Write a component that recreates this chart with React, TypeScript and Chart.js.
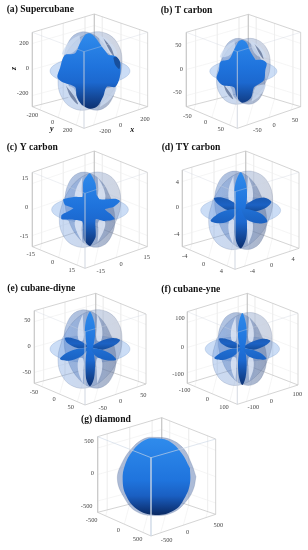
import React, { useEffect, useRef } from "react";
import { Chart, registerables } from "chart.js";

Chart.register(...registerables);

type P = [number, number];
type L = [string, number, number];

// ---- projected outlines, in view units (box half-width is about 173) ----
const discH: P[] = [[0,40],[-60,35],[-104,20],[-120,0],[-104,-20],[-60,-35],[0,-40],[60,-35],[104,-20],[120,0],[104,20],[60,35]];
const discA: P[] = [[67,32],[39,84],[0,114],[-39,113],[-67,82],[-78,29],[-67,-32],[-39,-84],[0,-114],[39,-113],[67,-82],[78,-29]];
const discB: P[] = [[-83,32],[-96,-29],[-83,-82],[-48,-113],[0,-114],[48,-84],[83,-32],[96,29],[83,82],[48,113],[0,114],[-48,84]];

const slitsWide: P[][] = [
  [[-24,102],[-44,62],[-46,28],[-27,30],[-26,65]],
  [[24,102],[44,62],[46,30],[27,32],[26,65]],
  [[-24,-102],[-44,-62],[-46,-34],[-27,-34],[-26,-65]],
  [[24,-102],[44,-62],[46,-36],[27,-36],[26,-65]],
];
const slitsThin: P[][] = [
  [[-22,104],[-36,62],[-33,24],[-20,28],[-20,65]],
  [[22,104],[36,62],[33,24],[20,28],[20,65]],
  [[-22,-104],[-36,-62],[-33,-28],[-20,-30],[-20,-65]],
  [[22,-104],[36,-62],[33,-28],[20,-30],[20,-65]],
];
const crescents: P[][] = [
  [[-32,108],[-62,88],[-84,52],[-72,50],[-48,58],[-30,85]],
  [[28,108],[60,88],[82,52],[66,50],[46,58],[30,85]],
  [[-32,-108],[-60,-88],[-78,-48],[-60,-46],[-46,-56],[-36,-85]],
  [[30,-108],[58,-88],[80,-50],[58,-50],[44,-56],[34,-85]],
];
const arcsDark: P[][] = [
  [[-72,-44],[-58,-78],[-36,-100],[-46,-78]],
  [[40,98],[62,72],[72,44],[58,62]],
];

const lobeA: P[] = [[55,48],[75,45],[90,28],[92,3],[87,-27],[75,-48],[50,-48],[40,-76],[22,-106],[0,-113],[-25,-101],[-40,-76],[-45,-48],[-85,-32],[-98,-18],[-90,8],[-76,47],[-45,53],[-30,83],[-15,108],[-3,113],[12,105],[32,78]];
const lobeB: P[] = [[37,34],[57,34],[70,24],[66,4],[62,-26],[42,-41],[32,-48],[22,-81],[-3,-94],[-20,-76],[-28,-48],[-63,-41],[-80,-21],[-73,4],[-68,29],[-43,36],[-28,64],[-14,90],[-3,94],[10,86],[20,62]];
const lobeC: P[] = [[20,44],[30,31],[75,33],[90,26],[72,9],[45,1],[65,-16],[74,-29],[40,-34],[17,-29],[17,-81],[0,-109],[-18,-91],[-22,-36],[-45,-31],[-85,-29],[-85,-16],[-50,4],[-75,14],[-80,31],[-45,39],[-22,39],[-20,84],[-1,109],[16,80]];
const backA: P[] = [[70,40],[80,42],[90,26],[88,6],[76,18]];

const stemD: P[] = [[14,5],[19,-40],[16,-85],[0,-114],[-16,-85],[-19,-40],[-14,5],[-19,40],[-16,80],[0,114],[16,80],[19,40]];
const armsD: P[][] = [
  [[0,8],[-32,30],[-60,39],[-80,36],[-70,20],[-35,0]],
  [[0,8],[40,32],[72,38],[92,26],[76,8],[35,-4]],
  [[0,6],[-42,0],[-72,-13],[-90,-32],[-60,-39],[-28,-28]],
  [[0,6],[35,0],[66,-13],[80,-34],[50,-39],[16,-26]],
];
const stemE: P[] = [[9,4],[15,-40],[12,-88],[0,-112],[-12,-88],[-15,-40],[-9,4],[-15,40],[-13,80],[0,112],[13,80],[15,40]];
const armsE: P[][] = [
  [[0,6],[-25,22],[-55,33],[-75,33],[-68,18],[-38,3]],
  [[0,6],[38,26],[68,33],[90,27],[74,11],[38,-2]],
  [[0,4],[-40,0],[-72,-13],[-90,-30],[-64,-35],[-30,-24]],
  [[0,4],[34,-2],[63,-15],[78,-32],[50,-34],[18,-22]],
];
const stemF: P[] = [[8,4],[13,-40],[10,-84],[0,-108],[-10,-84],[-13,-40],[-8,4],[-13,38],[-11,76],[0,108],[11,76],[13,38]];
const armsF: P[][] = [
  [[0,6],[-22,20],[-50,31],[-70,31],[-62,16],[-34,3]],
  [[0,6],[35,24],[62,31],[84,25],[68,10],[34,-2]],
  [[0,4],[-36,0],[-66,-12],[-84,-28],[-58,-33],[-27,-22]],
  [[0,4],[30,-2],[58,-14],[72,-30],[46,-31],[16,-20]],
];
const outerG: P[] = [[118,0],[110,-38],[90,-72],[52,-106],[-5,-117],[-62,-104],[-98,-62],[-118,-7],[-102,45],[-70,90],[-35,115],[-5,118],[40,112],[80,85],[104,40]];
const innerG: P[] = [[100,25],[100,-20],[86,-60],[54,-100],[-5,-115],[-60,-97],[-92,-56],[-102,-10],[-95,35],[-70,80],[-35,110],[-5,115],[40,105],[75,70]];

// ---- labels: text, x, y in view units of the panel ----
const titles: L[] = [
  ["(a) Supercubane",20,30],["(b) T carbon",20,33],["(c) Y carbon",20,22],["(d) TY carbon",23,22],
  ["(e) cubane-diyne",22,40],["(f) cubane-yne",22,43],["(g) diamond",33,43],
];
const ticksA: L[] = [["200",72,130],["0",82,205],["-200",68,280],["-200",97,345],["0",158,368],["200",203,390],["-200",315,393],["0",362,375],["200",435,357]];
const ticksB: L[] = [["50",73,135],["0",82,207],["-50",70,277],["-50",100,348],["0",155,368],["50",200,388],["-50",310,392],["0",360,375],["50",423,360]];
const ticksC: L[] = [["15",75,115],["0",80,201],["-15",72,288],["-15",92,342],["0",158,367],["15",215,392],["-15",302,393],["0",363,373],["15",440,353]];
const ticksD: L[] = [["4",70,127],["0",70,203],["-4",68,282],["-4",92,349],["0",149,372],["4",202,393],["-4",295,395],["0",353,377],["4",417,358]];
const ticksE: L[] = [["50",82,135],["0",87,214],["-50",80,293],["-50",102,352],["0",162,373],["50",212,397],["-50",308,399],["0",362,380],["50",430,362]];
const ticksF: L[] = [["100",78,130],["0",85,216],["-100",72,299],["-100",92,347],["0",160,372],["100",210,396],["-100",298,397],["0",352,378],["100",430,358]];
const ticksG: L[] = [["500",57,108],["0",67,206],["-500",50,305],["-500",65,347],["0",145,376],["500",203,402],["-500",290,406],["0",353,383],["500",445,362]];
const axisTitlesA: L[] = [["z",42,205],["y",155,386],["x",397,391]];

// box corners: back, left, right, front (top), then left, right, front (bottom)
const boxes: number[][] = [
  [283,42, 97,97, 443,97, 252,155, 97,320, 443,320, 252,385],
  [283,43, 97,97, 440,97, 250,155, 97,320, 440,320, 250,385],
  [283,33, 97,97, 442,97, 255,160, 97,320, 442,320, 255,385],
  [275,33, 85,90, 435,97, 243,155, 85,320, 435,325, 243,388],
  [287,55, 103,107, 438,117, 255,170, 103,325, 438,327, 255,390],
  [280,55, 100,110, 432,115, 250,172, 100,325, 432,330, 250,388],
  [275,38, 83,95, 437,102, 243,158, 83,322, 437,328, 243,393],
];

const frames = [
  [0,0,154,145],[154,0,154,145],[0,140,154,145],[154,140,154,145],[0,275,154,145],[154,275,154,145],[70,405,170,145],
];
const centers: P[] = [[270,213],[268,214],[270,209],[260,211],[270,222],[265,222],[260,215]];
const discScale = [1,0.84,0.96,1,1,0.93,0];
const tickSets = [ticksA,ticksB,ticksC,ticksD,ticksE,ticksF,ticksG];

const SERIF = '"Liberation Serif", serif';

function makeChart(canvas: HTMLCanvasElement, i: number) {
  const [, , fw, fh] = frames[i];
  const [cx, cy] = centers[i];
  const ctx = canvas.getContext("2d")!;
  const tx = (pts: P[], k = 1) => {
    const a = pts.map(([x, y]) => ({ x: cx + k * x, y: cy - k * y }));
    a.push(a[0]);
    return a;
  };
  const hGrad = (c0: string, c1: string) => {
    const g = ctx.createLinearGradient((cx - 100) / 3, 0, (cx + 100) / 3, 0);
    g.addColorStop(0, c0); g.addColorStop(1, c1);
    return g;
  };
  const vGrad = (top: number, bottom: number, stops: [number, string][]) => {
    const g = ctx.createLinearGradient(0, (cy - top) / 3, 0, (cy - bottom) / 3);
    stops.forEach(([o, c]) => g.addColorStop(o, c));
    return g;
  };
  const lobeStops: [number, string][] = [[0,"#2f8bec"],[0.45,"#1f73dc"],[0.65,"#1c68cf"],[0.82,"#154c9f"],[1,"#0d2f6e"]];
  const lobeFill = vGrad(115, -115, lobeStops);
  const darkArm = vGrad(40, 0, [[0,"#1a58b0"],[0.6,"#1c62c4"],[1,"#164f9f"]]);
  const frontArm = vGrad(30, -40, [[0,"#2379e0"],[1,"#1a60c0"]]);

  const datasets: any[] = [];
  const shape = (pts: any[], fill: any, stroke = "rgba(0,0,0,0)", w = 0, tension = 0.4) =>
    datasets.push({ data: pts, showLine: true, fill: "shape", backgroundColor: fill, borderColor: stroke, borderWidth: w, tension, pointRadius: 0 });
  const path = (pts: any[], stroke: string, w: number) =>
    datasets.push({ data: pts, showLine: true, fill: false, borderColor: stroke, borderWidth: w, tension: 0, pointRadius: 0 });

  const b = boxes[i];
  const V = {
    tb: { x: b[0], y: b[1] }, tl: { x: b[2], y: b[3] }, tr: { x: b[4], y: b[5] }, tf: { x: b[6], y: b[7] },
    bl: { x: b[8], y: b[9] }, br: { x: b[10], y: b[11] }, bf: { x: b[12], y: b[13] },
    bb: { x: b[0], y: b[1] + (b[13] - b[7]) },
  };
  const lerp = (p: any, q: any, t: number) => ({ x: p.x + (q.x - p.x) * t, y: p.y + (q.y - p.y) * t });
  const gap = { x: NaN, y: NaN };
  const grid: any[] = [];
  [0.15, 0.5, 0.85].forEach((t) => {
    grid.push(lerp(V.tl, V.bl, t), lerp(V.tb, V.bb, t), lerp(V.tr, V.br, t), gap);
    grid.push(lerp(V.tl, V.tb, t), lerp(V.bl, V.bb, t), lerp(V.bl, V.bf, t), gap);
    grid.push(lerp(V.tr, V.tb, t), lerp(V.br, V.bb, t), lerp(V.br, V.bf, t), gap);
  });
  path(grid, "#efefef", 0.6);
  path([V.tl, V.tb, V.tr, gap, V.tb, V.bb, gap, V.bl, V.bb, V.br, gap, V.tl, V.bl, V.bf, V.br, V.tr], "#c9c9c9", 0.8);

  if (i < 6) {
    const k = discScale[i];
    shape(tx(discH, k), "rgba(110,160,230,0.36)", "rgba(90,130,190,0.45)", 0.5);
    shape(tx(discA, k), hGrad("rgba(75,125,205,0.42)", "rgba(85,100,135,0.5)"), "rgba(80,100,140,0.4)", 0.5);
    shape(tx(discB, k), hGrad("rgba(100,150,225,0.34)", "rgba(115,130,165,0.34)"), "rgba(80,100,140,0.4)", 0.5);
    if (i >= 3) slitsThin.forEach((s) => shape(tx(s, k), "rgba(226,234,248,0.8)"));
    else if (i === 2) slitsWide.forEach((s) => shape(tx(s, k), "rgba(226,234,248,0.8)"));
    else {
      crescents.forEach((s) => shape(tx(s, k), "rgba(205,220,242,0.75)"));
      arcsDark.forEach((s) => shape(tx(s, k), "rgba(45,65,110,0.55)"));
    }
  }
  if (i === 0) {
    shape(tx(lobeA), lobeFill, "rgba(0,0,0,0)", 0, 0.3);
    shape(tx(backA), "#184f9c", "rgba(0,0,0,0)", 0, 0.3);
  } else if (i === 1) {
    shape(tx(lobeB), lobeFill, "rgba(0,0,0,0)", 0, 0.3);
  } else if (i === 2) {
    shape(tx(lobeC), lobeFill, "rgba(0,0,0,0)", 0, 0.2);
  } else if (i < 6) {
    const stem = i === 3 ? stemD : i === 4 ? stemE : stemF;
    const arms = i === 3 ? armsD : i === 4 ? armsE : armsF;
    shape(tx(arms[0]), darkArm, "rgba(0,0,0,0)", 0, 0.3);
    shape(tx(arms[1]), darkArm, "rgba(0,0,0,0)", 0, 0.3);
    shape(tx(stem), lobeFill, "rgba(0,0,0,0)", 0, 0.3);
    shape(tx(arms[2]), frontArm, "rgba(0,0,0,0)", 0, 0.3);
    shape(tx(arms[3]), frontArm, "rgba(0,0,0,0)", 0, 0.3);
  } else {
    shape(tx(outerG), "rgba(90,120,175,0.5)", "rgba(80,100,140,0.4)", 0.5);
    shape(tx(innerG), vGrad(115, -115, [[0,"#2f8bec"],[0.55,"#1f74dd"],[0.75,"#1a5fc2"],[0.92,"#0f3a82"],[1,"#0b2a62"]]));
  }
  path([V.tl, V.tf, V.tr, gap, V.tf, V.bf], i === 6 ? "rgba(205,215,230,0.8)" : "rgba(205,210,220,0.45)", 0.8);

  datasets.forEach((d, n) => { d.order = datasets.length - n; });

  const labels = {
    id: "panelText",
    afterDatasetsDraw(chart: any) {
      const c = chart.ctx, sx = chart.scales.x, sy = chart.scales.y;
      c.save();
      c.textBaseline = "middle";
      c.textAlign = "left";
      c.fillStyle = "#111";
      c.font = `bold 9.6px ${SERIF}`;
      const [t, tX, tY] = titles[i];
      c.fillText(t, sx.getPixelForValue(tX), sy.getPixelForValue(tY));
      c.textAlign = "center";
      c.fillStyle = "#444";
      c.font = `6.4px ${SERIF}`;
      tickSets[i].forEach(([s, x, y]) => c.fillText(s, sx.getPixelForValue(x), sy.getPixelForValue(y)));
      if (i === 0) {
        c.fillStyle = "#111";
        c.font = `italic bold 8px ${SERIF}`;
        axisTitlesA.forEach(([s, x, y], n) => {
          c.save();
          c.translate(sx.getPixelForValue(x), sy.getPixelForValue(y));
          if (n === 0) c.rotate(-Math.PI / 2);
          c.fillText(s, 0, 0);
          c.restore();
        });
      }
      c.restore();
    },
  };

  return new Chart(canvas, {
    type: "scatter",
    data: { datasets },
    plugins: [labels],
    options: {
      animation: false,
      responsive: false,
      devicePixelRatio: 1,
      layout: { padding: 0 },
      plugins: { legend: { display: false }, tooltip: { enabled: false }, title: { display: false } },
      scales: {
        x: { type: "linear", display: false, min: 0, max: fw * 3 },
        y: { type: "linear", display: false, min: 0, max: fh * 3, reverse: true },
      },
    },
  } as any);
}

export default function App() {
  const refs = useRef<(HTMLCanvasElement | null)[]>([]);
  useEffect(() => {
    const charts = frames.map((_, i) => makeChart(refs.current[i]!, i));
    return () => charts.forEach((c) => c.destroy());
  }, []);
  return (
    <div style={{ position: "absolute", left: 0, top: 0, width: 308, height: 550, background: "#fff", overflow: "hidden" }}>
      {frames.map(([x, y, w, h], i) => (
        <canvas
          key={i}
          ref={(el) => { refs.current[i] = el; }}
          width={w}
          height={h}
          style={{ position: "absolute", left: x, top: y, width: w, height: h, display: "block" }}
        />
      ))}
    </div>
  );
}
